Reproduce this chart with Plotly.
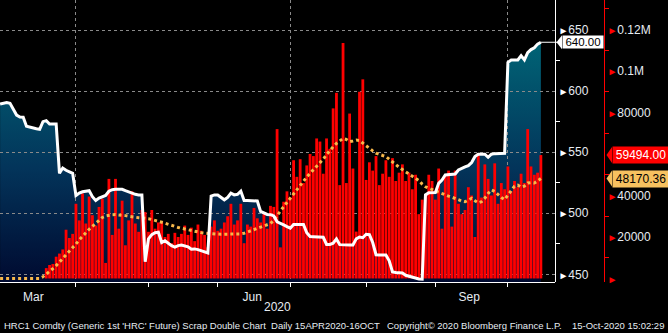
import pandas as pd
import plotly.graph_objects as go

# Trading days (weekdays) covered by the chart
dates = pd.bdate_range("2020-02-28", "2020-10-15")

# HRC1 front-month price (USD/st)
price = [
    589.4, 589.8, 590.6, 590.0, 584.8, 580.4, 578.8, 578.6, 571.2, 570.4,
    569.8, 569.2, 568.7, 575.0, 575.8, 573.1, 573.1, 573.1, 532.7, 537.0,
    535.2, 533.8, 532.7, 514.5, 516.5, 517.6, 518.0, 518.5, 513.5, 510.5,
    512.5, 513.5, 514.5, 518.0, 519.3, 519.6, 519.6, 519.6, 518.5, 517.3,
    516.3, 515.5, 515.0, 515.0, 460.3, 479.0, 482.5, 484.0, 484.5, 476.0,
    477.5, 475.5, 473.5, 472.3, 473.5, 474.0, 473.0, 472.5, 470.5, 470.8,
    470.2, 469.3, 468.5, 467.5, 514.0, 515.0, 515.0, 513.0, 511.0, 513.0,
    516.5, 515.0, 515.5, 518.0, 510.5, 510.5, 510.5, 510.5, 510.0, 501.5,
    500.0, 499.0, 498.8, 497.8, 493.0, 492.0, 490.4, 489.0, 487.8, 490.8,
    490.8, 490.8, 490.8, 484.0, 481.0, 480.8, 480.6, 480.5, 480.3, 474.5,
    474.5, 475.5, 479.0, 474.3, 474.0, 474.0, 474.0, 474.0, 479.0, 480.5,
    480.0, 482.8, 482.5, 476.0, 466.0, 465.8, 465.8, 465.8, 461.0, 452.0,
    451.5, 451.5, 451.0, 449.2, 448.5, 447.8, 446.6, 446.2, 446.0, 515.0,
    516.8, 516.8, 517.0, 524.5, 527.2, 531.3, 531.5, 532.0, 532.1, 535.4,
    537.0, 538.0, 539.0, 541.5, 546.5, 548.3, 548.3, 548.3, 545.8, 548.3,
    548.8, 549.1, 549.1, 549.1, 623.5, 625.5, 625.5, 625.5, 629.0, 625.5,
    631.5, 634.0, 635.5, 638.5, 640.0,
]

# Scrap futures daily volume (contracts)
volume = [
    0, 0, 0, 0, 0, 0, 0, 0, 0, 0,
    0, 0, 0, 0, 5000, 6500, 7000, 10500, 12000, 14000,
    23500, 19500, 21500, 36000, 28000, 41000, 26500, 39500, 30500, 25500,
    34500, 38500, 7500, 48000, 21000, 48000, 24000, 37500, 16000, 28000,
    42000, 26500, 22500, 33000, 32000, 22500, 33000, 24000, 27000, 27500,
    20000, 21500, 17000, 22000, 20000, 21500, 25500, 21000, 24500, 18000,
    26000, 23000, 21000, 15000, 25000, 28000, 23000, 24000, 27000, 30000,
    36000, 26000, 28000, 36000, 17000, 26000, 25000, 34000, 29000, 27000,
    31000, 24000, 35000, 34500, 72000, 15000, 37000, 42000, 39000, 57000,
    49000, 57500, 46000, 54500, 60000, 59000, 67500, 66000, 50500, 67500,
    62500, 82000, 89500, 45000, 113500, 46000, 79500, 53000, 22600, 90000,
    96000, 47500, 56000, 52000, 59000, 45000, 50500, 57000, 49000, 58000,
    47000, 51000, 55000, 47000, 51000, 43000, 50000, 31000, 38000, 40000,
    50000, 47000, 38000, 53000, 24000, 50000, 52000, 25000, 52000, 36000,
    31000, 33000, 44000, 40000, 20000, 60500, 39000, 55000, 48000, 40000,
    55500, 36000, 46000, 43000, 54000, 42000, 47000, 44000, 50500, 46000,
    72000, 54000, 50000, 51000, 59494,
]

# Moving average of volume
volume_ma = [
    0, 0, 0, 0, 0, 0, 0, 0, 0, 0,
    0, 0, 0, 800, 2000, 3100, 4700, 6200, 7900, 9500,
    11000, 13000, 14700, 16600, 18600, 20500, 22000, 23700, 25200, 26800,
    28200, 29400, 30100, 30500, 30700, 30800, 30700, 30600, 30300, 30000,
    29700, 29500, 29300, 29200, 29100, 28800, 28400, 28000, 27600, 27300,
    26700, 26100, 25500, 25000, 24600, 24200, 23800, 23400, 23100, 22800,
    22400, 22100, 21900, 21700, 21500, 21400, 21400, 21300, 21300, 21400,
    21400, 21400, 21400, 21500, 21800, 22400, 23200, 23700, 24200, 24800,
    25500, 26000, 26500, 28000, 30500, 32500, 34600, 36700, 38700, 40800,
    43000, 45100, 47000, 48900, 50700, 52300, 53900, 55500, 57500, 59700,
    61800, 63500, 65100, 66400, 67500, 67000, 66000, 66300, 66700, 66500,
    65200, 63800, 62500, 61500, 60400, 59700, 59300, 58800, 57500, 55900,
    54800, 53600, 52500, 51500, 50300, 49200, 48200, 47200, 45500, 44200,
    43500, 42800, 42300, 41500, 40900, 40200, 39700, 39200, 38700, 38000,
    37300, 37000, 37800, 38700, 37500, 36500, 37000, 38700, 41000, 42700,
    42000, 40500, 39000, 38000, 40000, 42500, 44500, 45000, 44000, 44500,
    46000, 46200, 46000, 47000, 48170.36,
]

price_ticks = [450, 500, 550, 600, 650]
price_minor_ticks = [475, 525, 575, 625]
volume_ticks = [0, 20000, 40000, 80000, 100000, 120000]
volume_tick_labels = ["", "20000", "40000", "80000", "0.1M", "0.12M"]
volume_minor_ticks = [10000, 30000, 50000, 70000, 90000, 110000, 130000]

footer_left = "HRC1 Comdty (Generic 1st 'HRC' Future) Scrap Double Chart  Daily 15APR2020-16OCT"
footer_mid = "Copyright\u00a9 2020 Bloomberg Finance L.P."
footer_right = "15-Oct-2020 15:02:29"

W, H = 668, 333
PLOT_H = 282
X_END = 555 / W
VOL_AXIS_POS = 604 / W
price_range = [443.7, 674.6]
volume_range = [-1700, 134240]
x_range = ["2020-02-27 23:15", "2020-10-21 06:45"]

FONT = "Liberation Sans, Arial, sans-serif"
LABEL = "#e6ecf2"
RED = "#ff0000"
ORANGE = "#f7b84b"
GRID = "#8a8a8a"
TAG_ORANGE = "#f7c160"

px_per_price = PLOT_H / (price_range[1] - price_range[0])
vol_per_px = (volume_range[1] - volume_range[0]) / PLOT_H


def ypx(y_px):
    # pixel row (from top) -> paper coordinate
    return (PLOT_H - y_px) / PLOT_H


def arrow_label(text, color):
    return f'<span style="color:{color};font-size:10px">\u25ba</span>{text}'


fig = go.Figure()

# gradient area beneath the price line
fig.add_trace(go.Scatter(
    x=dates, y=price, xaxis="x", yaxis="y", mode="lines",
    line=dict(width=0), fill="tozeroy",
    fillgradient=dict(
        type="vertical",
        colorscale=[[0, "#000a30"], [0.45, "#03345a"], [1, "#006878"]],
        start=price_range[0], stop=650,
    ),
    hoverinfo="skip", showlegend=False,
))

# volume bars and their moving average
fig.add_trace(go.Bar(
    x=dates, y=volume, xaxis="x2", yaxis="y2",
    marker=dict(color=RED, line=dict(width=0)), showlegend=False,
))
fig.add_trace(go.Scatter(
    x=dates, y=volume_ma, xaxis="x2", yaxis="y2", mode="lines",
    line=dict(color=ORANGE, width=3, dash="3px,3px"), showlegend=False,
))

# price line drawn above the bars
fig.add_trace(go.Scatter(
    x=dates, y=price, xaxis="x2", yaxis="y3", mode="lines",
    line=dict(color="white", width=3), showlegend=False,
))

rangebreaks = [dict(bounds=["sat", "mon"])]
tickfont = dict(family=FONT, size=12, color=LABEL)

fig.update_layout(
    width=W, height=H,
    margin=dict(l=0, r=0, t=0, b=H - PLOT_H),
    paper_bgcolor="black", plot_bgcolor="rgba(0,0,0,0)",
    showlegend=False, hovermode=False, bargap=0.15,
    font=dict(family=FONT, color=LABEL),
    xaxis=dict(
        type="date", range=x_range, rangebreaks=rangebreaks, domain=[0, X_END],
        anchor="y", showgrid=False, zeroline=False,
        showline=True, linecolor="white", linewidth=1,
        ticks="outside", ticklen=4, tickcolor="white",
        tickformat="%b", dtick="M3", tick0="2020-03-01", ticklabelmode="period",
        ticklabelshift=4, tickfont=tickfont,
        minor=dict(dtick="M1", tick0="2020-03-01", ticks="outside", ticklen=4,
                   tickcolor="white", showgrid=False),
    ),
    yaxis=dict(range=price_range, domain=[0, 1], anchor="x", visible=False),
    xaxis2=dict(
        type="date", range=x_range, rangebreaks=rangebreaks, domain=[0, X_END],
        anchor="y2", showgrid=True, gridcolor=GRID, griddash="3px,3px", gridwidth=1,
        dtick="M3", tick0="2020-04-01", showticklabels=False, ticks="",
        showline=False, zeroline=False,
    ),
    yaxis2=dict(
        range=volume_range, domain=[0, 1], anchor="free", position=VOL_AXIS_POS,
        side="right", showgrid=False, zeroline=False,
        showline=True, linecolor=RED, linewidth=1,
        tickmode="array", tickvals=volume_ticks,
        ticktext=[arrow_label(t, RED) for t in volume_tick_labels],
        ticks="", tickfont=tickfont,
        minor=dict(tickvals=volume_minor_ticks, ticks="outside", ticklen=4,
                   tickcolor=RED, showgrid=False),
    ),
    yaxis3=dict(
        range=price_range, overlaying="y2", anchor="x2", side="right",
        showgrid=True, gridcolor=GRID, griddash="3px,3px", gridwidth=1,
        zeroline=False, showline=True, linecolor="white", linewidth=1,
        tickmode="array", tickvals=price_ticks,
        ticktext=[arrow_label(str(t), "white") for t in price_ticks],
        ticks="", tickfont=tickfont,
        minor=dict(tickvals=price_minor_ticks, ticks="outside", ticklen=4,
                   tickcolor="white", showgrid=False),
    ),
)

last_price = price[-1]
last_vol = volume[-1]
last_ma = volume_ma[-1]

tags = [
    (f"{last_price:.2f}", last_price, "y3", "white", "black", 562, 40, 7 / px_per_price, 11.5),
    (f"{last_vol:.2f}", last_vol, "y2", RED, "white", 612, 54, 8 * vol_per_px, 12),
    (f"{last_ma:.2f}", last_ma, "y2", TAG_ORANGE, "black", 612, 54, 8 * vol_per_px, 12),
]
shapes = []
annotations = []
for text, yv, yref, bg, fg, left_px, width, dy, fsize in tags:
    annotations.append(dict(
        text=text, x=left_px / W, xref="paper", xanchor="left",
        y=yv, yref=yref, yanchor="middle", showarrow=False,
        bgcolor=bg, font=dict(family=FONT, size=fsize, color=fg),
        width=width, borderpad=1 if yref == "y2" else 0,
    ))
    tip = (left_px - 5.5) / W
    base = left_px / W
    shapes.append(dict(
        type="path", xref="paper", yref=yref, layer="above",
        path=f"M {tip},{yv} L {base},{yv + dy} L {base},{yv - dy} Z",
        fillcolor=bg, line=dict(width=0),
    ))

# leader from the last price point to its tag
shapes.append(dict(type="line", xref="paper", yref="y3", layer="above",
                   x0=541 / W, x1=557 / W, y0=last_price, y1=last_price,
                   line=dict(color="white", width=1)))

annotations += [
    dict(text="2020", x=277 / W, xref="paper", y=ypx(307), yref="paper",
         showarrow=False, font=dict(family=FONT, size=12, color=LABEL),
         xanchor="center", yanchor="middle"),
    dict(text=footer_left, x=2 / W, xref="paper", y=ypx(325), yref="paper",
         showarrow=False, font=dict(family=FONT, size=9.5, color=LABEL),
         xanchor="left", yanchor="middle"),
    dict(text=footer_mid, x=385 / W, xref="paper", y=ypx(325), yref="paper",
         showarrow=False, font=dict(family=FONT, size=9.5, color=LABEL),
         xanchor="left", yanchor="middle"),
    dict(text=footer_right, x=666 / W, xref="paper", y=ypx(325), yref="paper",
         showarrow=False, font=dict(family=FONT, size=9.5, color=LABEL),
         xanchor="right", yanchor="middle"),
]

fig.update_layout(shapes=shapes, annotations=annotations)
fig.write_html("out.html")
